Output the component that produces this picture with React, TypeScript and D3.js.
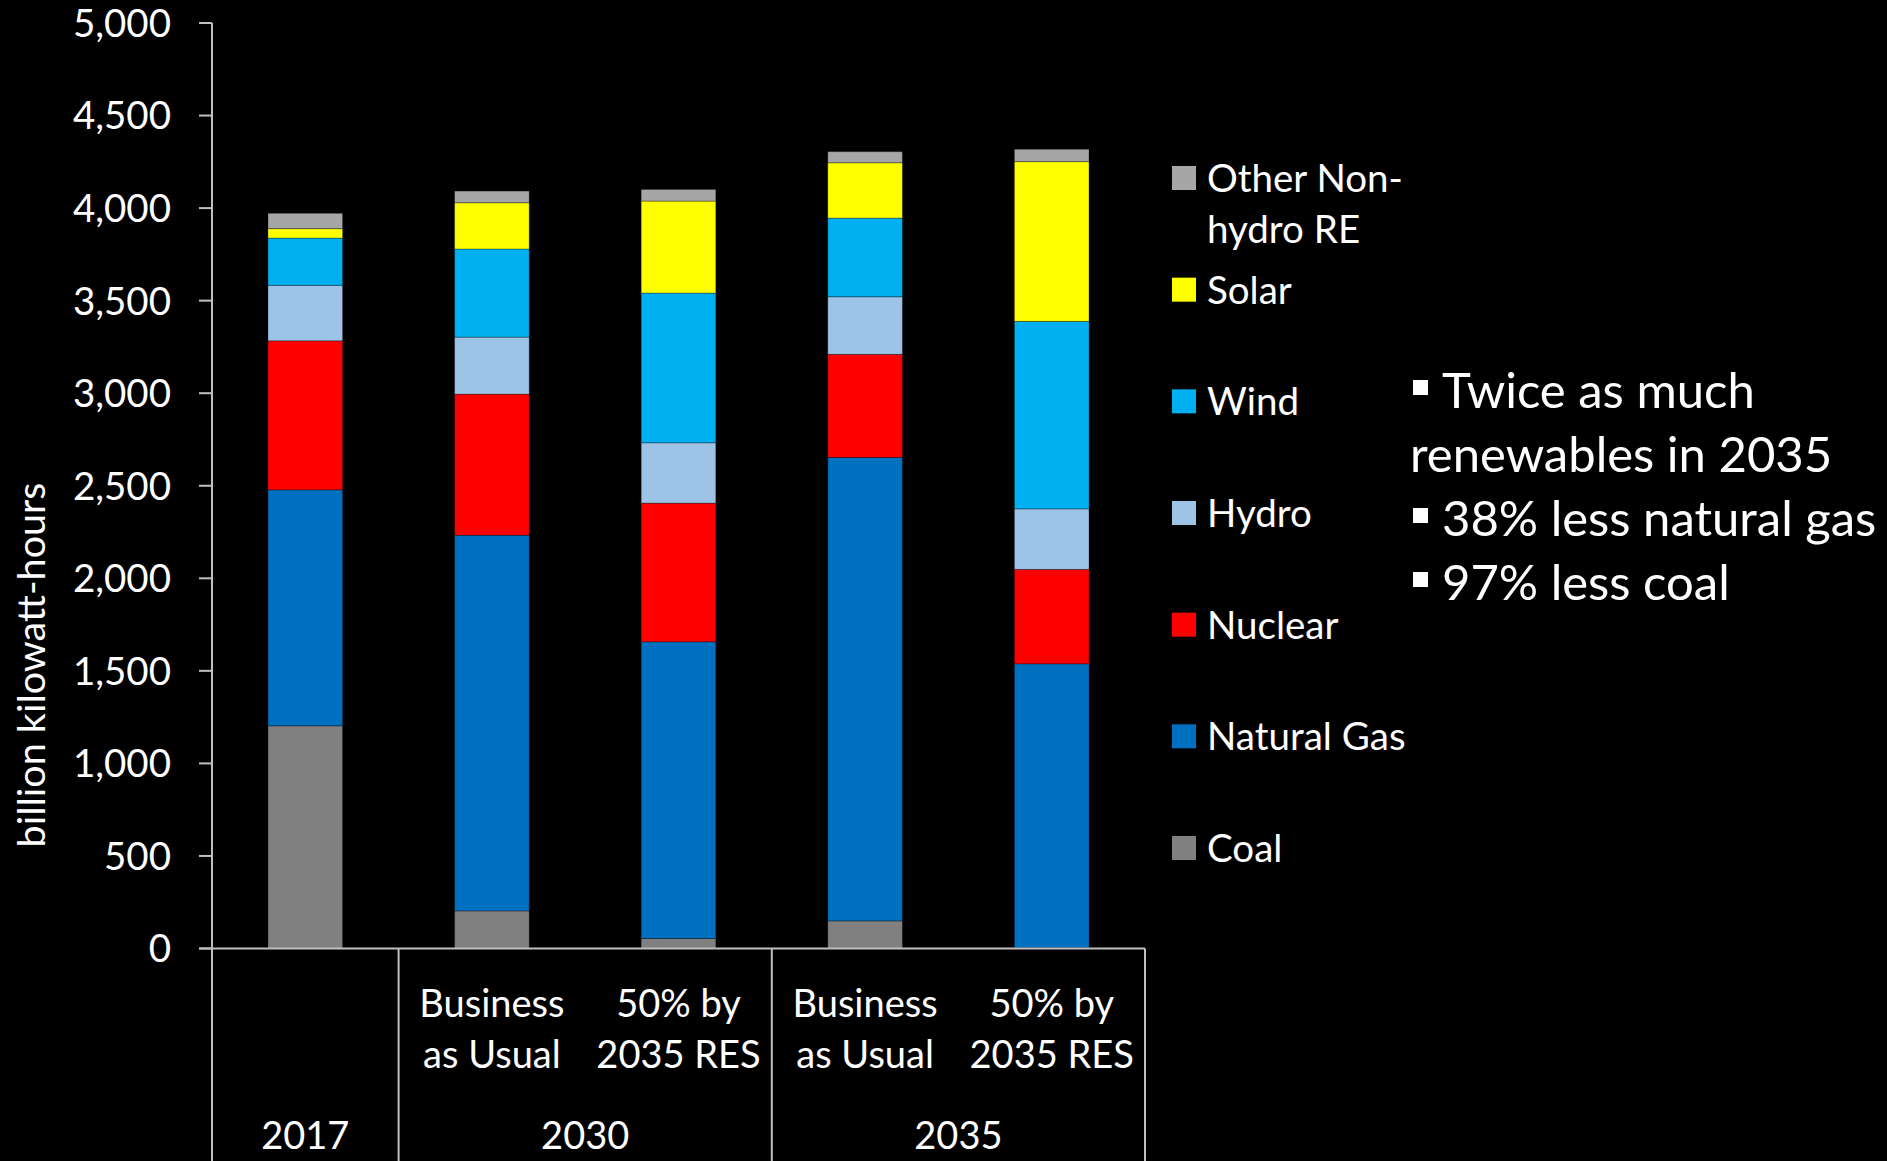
import React from "react";
import * as d3 from "d3";

const W = 1887;
const H = 1161;

const categories = ["2017", "BAU 2030", "RES 2030", "BAU 2035", "RES 2035"];
const innerLabels: string[][] = [
  [],
  ["Business", "as Usual"],
  ["50% by", "2035 RES"],
  ["Business", "as Usual"],
  ["50% by", "2035 RES"],
];
const groupLabels = ["2017", "2030", "2035"];
const groupStart = [0, 1, 3];
const groupEnd = [1, 3, 5];

const coal = [1203, 203, 54, 149, 5];
const naturalGas = [1275, 2030, 1603, 2504, 1533];
const nuclear = [805, 762, 749, 557, 510];
const hydro = [300, 308, 326, 311, 327];
const wind = [255, 476, 809, 425, 1013];
const solar = [51, 250, 497, 299, 863];
const otherRE = [83, 63, 63, 60, 67];

const seriesKeys = ["coal", "gas", "nuclear", "hydro", "wind", "solar", "other"];
const seriesNames: Record<string, string[]> = {
  coal: ["Coal"],
  gas: ["Natural Gas"],
  nuclear: ["Nuclear"],
  hydro: ["Hydro"],
  wind: ["Wind"],
  solar: ["Solar"],
  other: ["Other Non-", "hydro RE"],
};
const seriesColors: Record<string, string> = {
  coal: "#808080",
  gas: "#0070C0",
  nuclear: "#FF0000",
  hydro: "#9DC3E6",
  wind: "#00B0F0",
  solar: "#FFFF00",
  other: "#A6A6A6",
};
const seriesValues: Record<string, number[]> = {
  coal,
  gas: naturalGas,
  nuclear,
  hydro,
  wind,
  solar,
  other: otherRE,
};

const yTicks = d3.range(0, 5001, 500);

const notes = [
  { bullet: true, text: "Twice as much" },
  { bullet: false, text: "renewables in 2035" },
  { bullet: true, text: "38% less natural gas" },
  { bullet: true, text: "97% less coal" },
];

const FONT = "Lato, 'Open Sans', sans-serif";
const AXIS = "#BFBFBF";

export default function App() {
  const plotLeft = 212;
  const plotRight = 1145;
  const y0 = 948.5;
  const yTop = 23;

  const x = d3
    .scaleBand<string>()
    .domain(categories)
    .range([plotLeft, plotRight])
    .paddingInner(0.6)
    .paddingOuter(0.3);
  const y = d3.scaleLinear().domain([0, 5000]).range([y0, yTop]);

  const table = categories.map((c, i) => {
    const row: Record<string, any> = { cat: c };
    seriesKeys.forEach((k) => (row[k] = seriesValues[k][i]));
    return row;
  });
  const stacked = d3.stack<Record<string, any>>().keys(seriesKeys)(table);

  const step = x.step();
  const boundary = (i: number) => plotLeft + i * step;
  const fmt = d3.format(",");

  const legendKeys = [...seriesKeys].reverse();
  const legendY = d3
    .scalePoint<string>()
    .domain(legendKeys)
    .range([178, 848]);

  return (
    <svg
      width={W}
      height={H}
      style={{ position: "absolute", left: 0, top: 0, background: "#000" }}
      fontFamily={FONT}
    >
      <rect x={0} y={0} width={W} height={H} fill="#000" />

      {/* bars */}
      {stacked.map((s) => (
        <g key={s.key}>
          {s.map((d, i) => (
            <rect
              key={i}
              x={x(categories[i])}
              width={x.bandwidth()}
              y={y(d[1])}
              height={Math.max(0, y(d[0]) - y(d[1]))}
              fill={seriesColors[s.key]}
              stroke="rgba(0,0,0,0.3)"
              strokeWidth={1}
            />
          ))}
        </g>
      ))}

      {/* y axis */}
      <line x1={plotLeft} x2={plotLeft} y1={yTop} y2={y0} stroke={AXIS} strokeWidth={2} />
      {yTicks.map((t) => (
        <g key={t}>
          <line x1={199} x2={plotLeft} y1={y(t)} y2={y(t)} stroke={AXIS} strokeWidth={2} />
          <text
            x={171}
            y={y(t)}
            dy="0.36em"
            textAnchor="end"
            fill="#fff"
            fontSize={38.5}
          >
            {fmt(t)}
          </text>
        </g>
      ))}
      <text
        transform={`translate(45, 665) rotate(-90)`}
        textAnchor="middle"
        fill="#fff"
        fontSize={39.5}
      >
        billion kilowatt-hours
      </text>

      {/* category axis */}
      <line x1={199} x2={plotRight} y1={y0} y2={y0} stroke={AXIS} strokeWidth={2} />
      {[0, 1, 3, 5].map((b) => (
        <line
          key={b}
          x1={boundary(b)}
          x2={boundary(b)}
          y1={y0}
          y2={H}
          stroke={AXIS}
          strokeWidth={2}
        />
      ))}
      {categories.map((c, i) =>
        innerLabels[i].map((ln, j) => (
          <text
            key={c + j}
            x={(x(c) as number) + x.bandwidth() / 2}
            y={1017 + j * 51}
            textAnchor="middle"
            fill="#fff"
            fontSize={38}
          >
            {ln}
          </text>
        ))
      )}
      {groupLabels.map((g, i) => (
        <text
          key={g}
          x={(boundary(groupStart[i]) + boundary(groupEnd[i])) / 2}
          y={1149}
          textAnchor="middle"
          fill="#fff"
          fontSize={38}
        >
          {g}
        </text>
      ))}

      {/* legend */}
      {legendKeys.map((k) => {
        const cy = legendY(k) as number;
        return (
          <g key={k}>
            <rect x={1172} y={cy - 12} width={24} height={24} fill={seriesColors[k]} />
            {seriesNames[k].map((ln, j) => (
              <text
                key={j}
                x={1207}
                y={cy + j * 51}
                dy="0.36em"
                fill="#fff"
                fontSize={38.5}
              >
                {ln}
              </text>
            ))}
          </g>
        );
      })}

      {/* notes */}
      {notes.map((n, i) => {
        const base = 408 + i * 64;
        return (
          <g key={i}>
            {n.bullet && (
              <rect x={1413} y={base - 28} width={15} height={15} fill="#fff" />
            )}
            <text
              x={n.bullet ? 1442 : 1410}
              y={base}
              fill="#fff"
              fontSize={49}
            >
              {n.text}
            </text>
          </g>
        );
      })}
    </svg>
  );
}
